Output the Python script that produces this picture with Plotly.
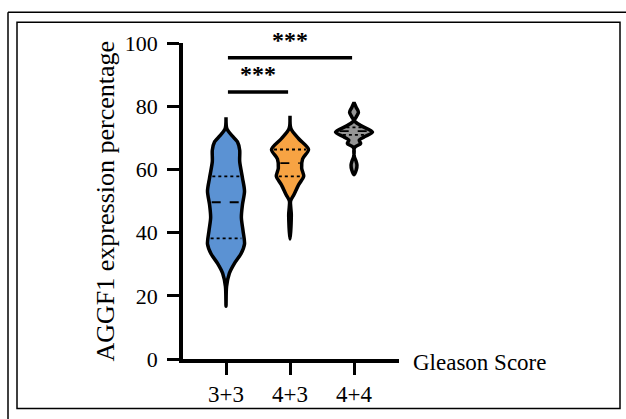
import plotly.graph_objects as go
import numpy as np

# ---------------- data ----------------
categories = ["3+3", "4+3", "4+4"]
fill_colors = ["#5b92d3", "#f7a343", "#959595"]

# violin outlines: y levels and relative density (half-width, max = 1)
blue_y = [16.7, 22.9, 27.1, 30.2, 33.3, 36.4, 40.6, 44.8, 48.9, 53.1, 57.3, 62.5, 66.1, 68.7, 70.5, 72.8, 76.5]
blue_d = [0.0, 0.03, 0.18, 0.45, 0.81, 1.0, 0.92, 0.83, 0.89, 1.0, 0.89, 0.74, 0.74, 0.62, 0.35, 0.05, 0.0]

orange_y = [38.0, 40.6, 43.0, 45.8, 48.0, 50.0, 52.0, 55.2, 57.8, 60.4, 63.3, 66.3, 69.7, 72.9, 77.0]
orange_d = [0.0, 0.04, 0.06, 0.07, 0.04, 0.03, 0.21, 0.47, 0.74, 0.63, 0.68, 1.0, 0.47, 0.05, 0.0]

gray_y = [58.3, 59.8, 61.4, 62.8, 64.0, 66.9, 68.2, 69.2, 70.3, 71.8, 73.9, 75.4, 76.6, 78.1, 79.6, 81.2]
gray_d = [0.0, 0.12, 0.16, 0.1, 0.02, 0.03, 0.36, 0.28, 0.56, 1.0, 0.36, 0.02, 0.12, 0.24, 0.12, 0.0]

# quartiles: [lower, median, upper]
quart_blue = [38.2, 49.6, 57.8]
quart_orange = [57.8, 62.0, 66.3]
quart_gray = [70.9, 72.1, 73.3]

# significance comparisons: (from category, to category, bar y, label)
sig_pairs = [(0, 1, 84.5, "***"), (0, 2, 95.3, "***")]

yticks = [0, 20, 40, 60, 80, 100]

# ---------------- layout geometry ----------------
W, H = 626, 419
L, R, T, B = 183, 227, 43, 57
pw, ph = W - L - R, H - T - B
xr = [-0.672, 2.703]
yr = [0, 100]
px_per_x = pw / (xr[1] - xr[0])
max_hw = 18.5 / px_per_x  # maximum violin half-width in category units
FONT = "Liberation Serif, Times New Roman, serif"


def px2paper_x(p):
    return (p - L) / pw


def px2paper_y(p):
    return (H - B - p) / ph


fig = go.Figure()

outlines = [(blue_y, blue_d), (orange_y, orange_d), (gray_y, gray_d)]
quarts = [quart_blue, quart_orange, quart_gray]

for i, ((ys, ds), q) in enumerate(zip(outlines, quarts)):
    ys = np.array(ys)
    hw = np.array(ds) * max_hw
    xs = np.concatenate([i + hw, (i - hw)[::-1]])
    yy = np.concatenate([ys, ys[::-1]])
    fig.add_trace(go.Scatter(
        x=xs, y=yy, mode="lines", fill="toself", fillcolor=fill_colors[i],
        line=dict(color="black", width=3.5, shape="spline", smoothing=0.8),
        hoverinfo="skip", showlegend=False))
    for k, qv in enumerate(q):
        w = np.interp(qv, ys, hw) - 2.5 / px_per_x
        w = max(w, 0.02)
        fig.add_trace(go.Scatter(
            x=[i - w, i + w], y=[qv, qv], mode="lines",
            line=dict(color="black", width=1.8, dash="dash" if k == 1 else "dot"),
            hoverinfo="skip", showlegend=False))

# significance bars
for a, b, yv, lab in sig_pairs:
    fig.add_trace(go.Scatter(
        x=[a + 0.03, b - 0.03], y=[yv, yv], mode="lines",
        line=dict(color="black", width=3.5), hoverinfo="skip",
        showlegend=False, cliponaxis=False))
    fig.add_annotation(x=(a + b) / 2, y=yv + 0.8, xref="x", yref="y",
                       text="<b>" + lab + "</b>", showarrow=False, yanchor="bottom",
                       font=dict(family=FONT, size=24, color="black"))

# axis titles as annotations
fig.add_annotation(x=px2paper_x(105), y=px2paper_y(203), xref="paper", yref="paper",
                   text="AGGF1 expression percentage", textangle=-90,
                   xanchor="center", yanchor="middle",
                   showarrow=False, font=dict(family=FONT, size=26, color="black"))
fig.add_annotation(x=px2paper_x(411), y=px2paper_y(366), xref="paper", yref="paper",
                   text="Gleason Score", xanchor="left", yanchor="middle",
                   showarrow=False, font=dict(family=FONT, size=23, color="black"))

# frames
fig.add_shape(type="rect", xref="paper", yref="paper",
              x0=px2paper_x(17), x1=px2paper_x(620),
              y0=px2paper_y(412), y1=px2paper_y(22),
              line=dict(color="black", width=1.5))
fig.add_shape(type="line", xref="paper", yref="paper",
              x0=px2paper_x(8), x1=px2paper_x(640),
              y0=px2paper_y(12), y1=px2paper_y(12),
              line=dict(color="black", width=1.5))
fig.add_shape(type="line", xref="paper", yref="paper",
              x0=px2paper_x(8), x1=px2paper_x(8),
              y0=px2paper_y(12), y1=px2paper_y(440),
              line=dict(color="black", width=1.5))

fig.update_layout(
    width=W, height=H,
    margin=dict(l=L, r=R, t=T, b=B, pad=0),
    paper_bgcolor="white", plot_bgcolor="white",
    font=dict(family=FONT, color="black"),
    xaxis=dict(range=xr, tickmode="array", tickvals=[0, 1, 2], ticktext=categories,
               showline=True, linecolor="black", linewidth=3.5,
               ticks="outside", ticklen=12, tickwidth=3, tickcolor="black",
               tickfont=dict(family=FONT, size=23, color="black"),
               showgrid=False, zeroline=False, fixedrange=True),
    yaxis=dict(range=yr, tickmode="array", tickvals=yticks,
               showline=True, linecolor="black", linewidth=3.5,
               ticks="outside", ticklen=12, tickwidth=3, tickcolor="black",
               tickfont=dict(family=FONT, size=22, color="black"),
               ticklabelstandoff=5,
               showgrid=False, zeroline=False, fixedrange=True),
)

fig.write_html("out.html",
               config={"displayModeBar": False},
               post_script="document.body.style.margin='0';document.body.style.overflow='hidden';")
